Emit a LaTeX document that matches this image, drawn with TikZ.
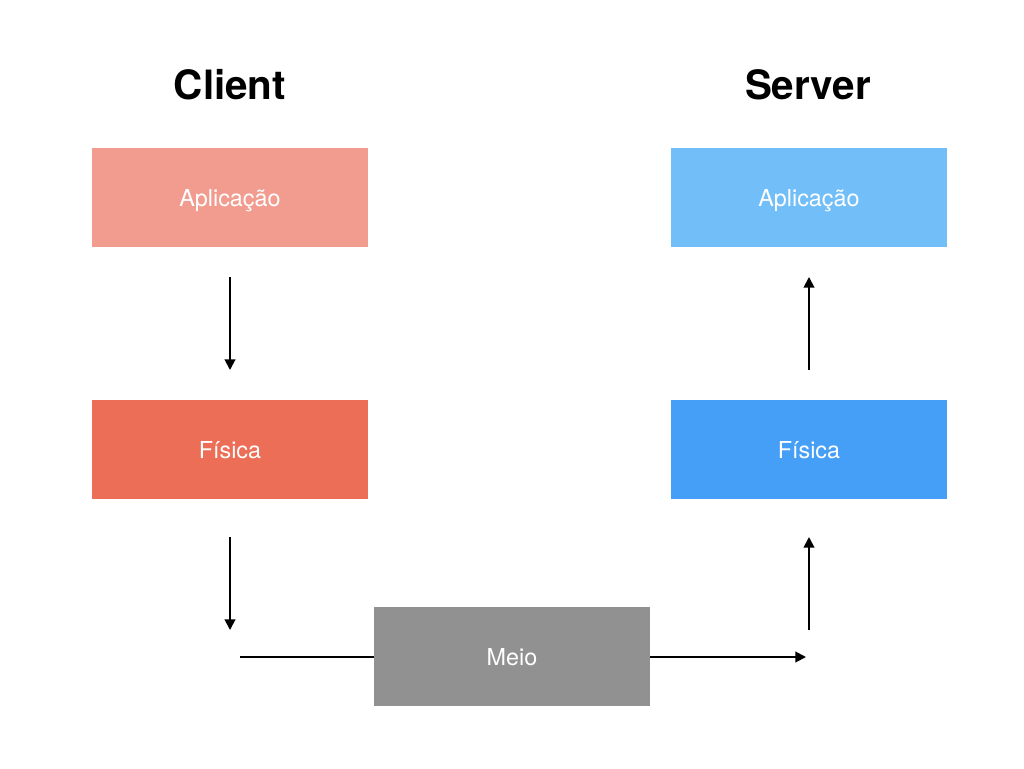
\documentclass[tikz,border=0pt]{standalone}
\usepackage{fontspec}
\setmainfont{TeX Gyre Heros}
\usetikzlibrary{arrows.meta}
\definecolor{cliAppColor}{HTML}{F29B8F}
\definecolor{cliPhyColor}{HTML}{EC6E57}
\definecolor{srvAppColor}{HTML}{72BEF9}
\definecolor{srvPhyColor}{HTML}{459FF7}
\definecolor{meioColor}{HTML}{919191}
\tikzset{
	layer/.style = {minimum width=5.52cm, minimum height=1.98cm, inner sep=0pt,
		text=white, text depth=0pt, font=\fontsize{13.3}{15}\selectfont},
	title/.style = {font=\fontsize{23}{28}\selectfont\bfseries},
	link/.style = {line width=1.1pt, -{Triangle[length=6pt,width=6pt]}}
}
\begin{document}
\begin{tikzpicture}[x=0.02cm, y=-0.02cm]
		\useasboundingbox (0,0) rectangle (1024,768);
		%%%%%%%%%%%%%
		\node [title] (client) at (230, 85) {Client};
		\node [title] (server) at (808, 85) {Server};
		\node [layer, fill=cliAppColor] (capp) at (230, 197.5) {Aplicação};
		\node [layer, fill=cliPhyColor] (cphy) at (230, 449.5) {Física};
		\node [layer, fill=srvAppColor] (sapp) at (809, 197.5) {Aplicação};
		\node [layer, fill=srvPhyColor] (sphy) at (809, 449.5) {Física};
		\node [layer, fill=meioColor] (meio) at (512, 656.5) {Meio};
		%%%%%%%%%%%%%
		\coordinate (c1) at (230, 277); \coordinate (c2) at (230, 370);
		\coordinate (c3) at (230, 537); \coordinate (c4) at (230, 630);
		\coordinate (c5) at (240, 657);
		\coordinate (s1) at (806, 657);
		\coordinate (s2) at (809, 630); \coordinate (s3) at (809, 537);
		\coordinate (s4) at (809, 370); \coordinate (s5) at (809, 277);
		%%%%%%%%%%%%%
		\draw [link] (c1) to (c2);
		\draw [link] (c3) to (c4);
		\draw [line width=1.1pt] (c5) to (meio.west |- c5);
		\draw [link] (meio.east |- s1) to (s1);
		\draw [link] (s2) to (s3);
		\draw [link] (s4) to (s5);
\end{tikzpicture}
\end{document}
